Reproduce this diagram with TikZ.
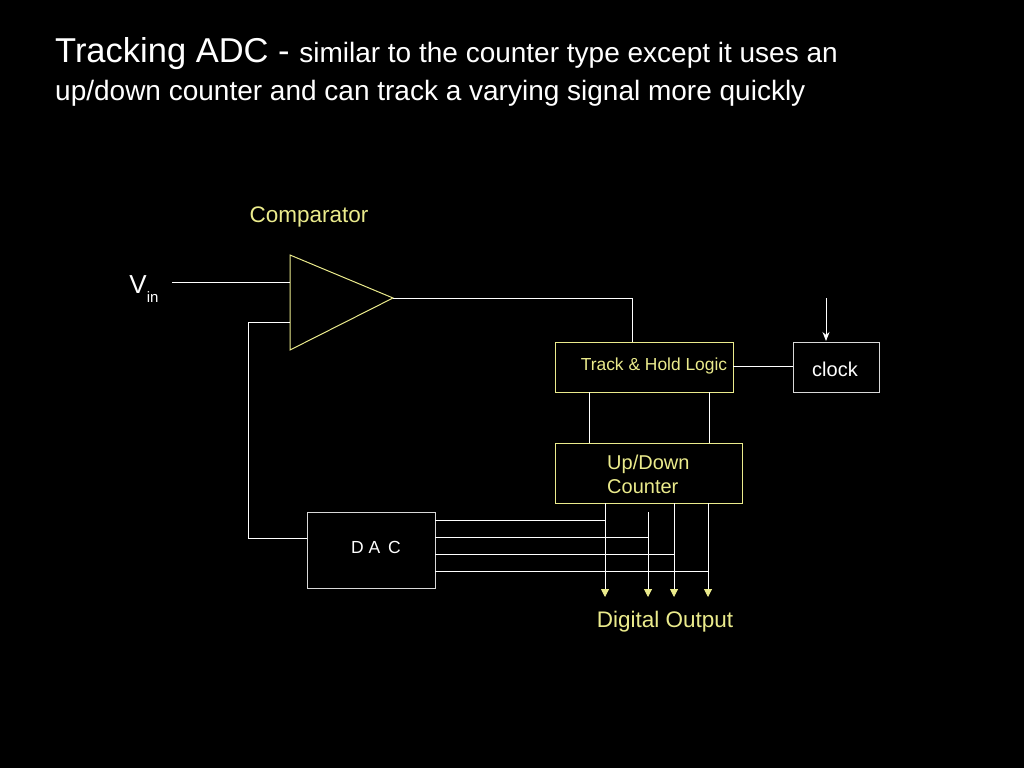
\documentclass[tikz,border=0pt]{standalone}
\usepackage{fontspec}
\setmainfont{Liberation Sans}
\usetikzlibrary{arrows.meta}
\definecolor{yel}{RGB}{235,235,140}
\begin{document}
\begin{tikzpicture}[x=1pt,y=-1pt,
  wire/.style={draw=white,line width=1pt},
  ybox/.style={draw=yel,line width=1pt},
  wbox/.style={draw=white!85!black,line width=1pt},
  otip/.style={-{Triangle[length=8pt,width=8pt,color=yel]}},
  ytext/.style={text=yel,font=\fontsize{22.5}{26}\selectfont}]
\fill[black] (0,0) rectangle (1024,768);
\useasboundingbox (0,0) rectangle (1024,768);
% title
\node[anchor=base west,text=white,inner sep=0] (t1) at (55,63) {\fontsize{34.5}{38}\selectfont Tracking ADC - \fontsize{28}{31}\selectfont similar to the counter type except it uses an};
\node[anchor=base west,text=white,inner sep=0,font=\fontsize{28}{31}\selectfont] (t2) at (55,100) {up/down counter and can track a varying signal more quickly};
% comparator
\draw[ybox] (290,255) -- (290,350) -- (393,298) -- cycle;
\coordinate (tip) at (393,298);
\node[ytext] (cl) at (309,217) {Comparator};
\node[text=white,font=\fontsize{26}{30}\selectfont] (vin) at (144,289) {V\raisebox{-0.6ex}{\fontsize{15}{17}\selectfont in}};
\coordinate (vs) at (172,282); \coordinate (vp) at (290,282);
\draw[wire] (vs) -- (vp);
% boxes
\draw[wbox] (307,512) rectangle (435,588);
\node[text=white,font=\fontsize{17.5}{20}\selectfont] (dac) at (376,547) {D A\, C};
\draw[ybox] (555,342) rectangle (733,392);
\node[text=yel,font=\fontsize{17.4}{20}\selectfont] (th) at (654,366) {Track \& Hold Logic};
\draw[wbox] (793,342) rectangle (879,392);
\node[text=white,font=\fontsize{20}{23}\selectfont] (clk) at (835,369) {clock};
\draw[ybox] (555,443) rectangle (742,503);
\node[text=yel,font=\fontsize{20}{24}\selectfont,anchor=west,align=left,inner sep=0] (cnt) at (607,474) {Up/Down\\Counter};
% wires
\coordinate (fm) at (290,322);
\draw[wire] (fm) -- (248,322) -- (248,538) -- (307,538);
\draw[wire] (tip) -- (632,298) -- (632,342);
\draw[wire] (733,366) -- (793,366);
\draw[wire,-{Stealth[length=9pt,width=7pt]}] (826,298) -- (826,341);
\draw[wire] (589,392) -- (589,443);
\draw[wire] (709,392) -- (709,443);
\foreach \y/\x in {520/605,537/648,554/674,571/708}{
  \draw[wire] (435,\y) -- (\x,\y);}
\draw[wire,otip] (605,503) -- (605,597);
\draw[wire,otip] (648,512) -- (648,597);
\draw[wire,otip] (674,503) -- (674,597);
\draw[wire,otip] (708,503) -- (708,597);
\node[ytext] (dout) at (665,622) {Digital Output};
\end{tikzpicture}
\end{document}
